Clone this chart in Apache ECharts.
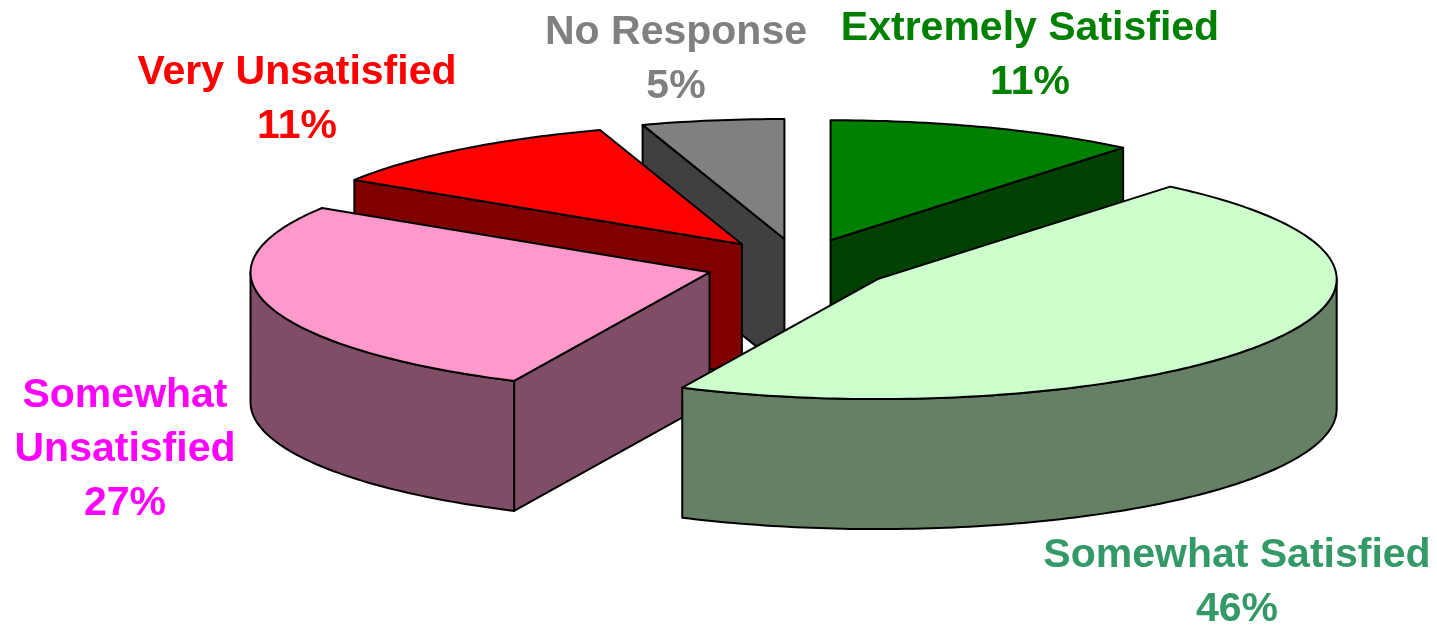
<!DOCTYPE html>
<html>
<head>
<meta charset="utf-8">
<script src="https://cdn.jsdelivr.net/npm/echarts@6/dist/echarts.min.js"></script>
<style>
  html, body { margin: 0; padding: 0; background: #ffffff; }
  #chart { width: 1437px; height: 628px; }
</style>
</head>
<body>
<div id="chart"></div>
<script>
// Survey answers, clockwise from 12 o'clock
const categories = ['Extremely Satisfied', 'Somewhat Satisfied', 'Somewhat\nUnsatisfied', 'Very Unsatisfied', 'No Response'];
const percentages = [11, 46, 27, 11, 5];

// Colours: top face, side walls, label
const topColors   = ['#008000', '#CCFFCC', '#FF99CC', '#FF0000', '#808080'];
const sideColors  = ['#004000', '#668066', '#804D66', '#800000', '#404040'];
const labelColors = ['#008000', '#339966', '#FF00FF', '#FF0000', '#808080'];

// Label block centres (px)
const labelPos = [[1030, 56], [1237, 583], [125, 450], [297, 100], [676, 60]];

// 3D pie geometry (px): ellipse of the top face, wall height, explode fraction
const pie = { cx: 799, cy: 265, rx: 459, ry: 120, depth: 130, explode: 0.203 };

// Angular extent of each slice (radians, clockwise from top)
const total = percentages.reduce((s, v) => s + v, 0);
const slices = [];
let acc = 0;
percentages.forEach((v, i) => {
  const a = acc / total * Math.PI * 2;
  acc += v;
  const b = acc / total * Math.PI * 2;
  slices.push({ a, b, mid: (a + b) / 2 });
});

// Paint back slices first so nearer ones overlap them
const order = slices.map((s, i) => i).sort((p, q) => Math.cos(slices[q].mid) - Math.cos(slices[p].mid));

function renderSlice(params, api) {
  const i = api.value(0);
  const s = slices[i];
  const D = pie.depth;
  const ox = pie.rx * pie.explode * Math.sin(s.mid);
  const oy = -pie.ry * pie.explode * 1.08 * Math.cos(s.mid);
  const P = (t, dy) => [pie.cx + ox + pie.rx * Math.sin(t), pie.cy + oy - pie.ry * Math.cos(t) + dy];
  const C = (dy) => [pie.cx + ox, pie.cy + oy + dy];
  const arc = (t0, t1, dy) => {
    const n = Math.max(2, Math.ceil((t1 - t0) / (Math.PI / 180)));
    const pts = [];
    for (let k = 0; k <= n; k++) pts.push(P(t0 + (t1 - t0) * k / n, dy));
    return pts;
  };
  const edge = { stroke: '#000000', lineWidth: 2, lineJoin: 'round' };
  const side = Object.assign({ fill: sideColors[i] }, edge);
  const children = [];

  // radial cut faces that turn toward the viewer
  if (Math.sin(s.a) < -1e-6) {
    children.push({ type: 'polygon', shape: { points: [C(0), P(s.a, 0), P(s.a, D), C(D)] }, style: side });
  }
  if (Math.sin(s.b) > 1e-6) {
    children.push({ type: 'polygon', shape: { points: [C(0), P(s.b, 0), P(s.b, D), C(D)] }, style: side });
  }
  // front part of the outer wall
  const lo = Math.max(s.a, Math.PI / 2);
  const hi = Math.min(s.b, Math.PI * 1.5);
  if (hi > lo) {
    const pts = arc(lo, hi, 0).concat(arc(lo, hi, D).reverse());
    children.push({ type: 'polygon', shape: { points: pts }, style: side });
  }
  // top face
  children.push({
    type: 'polygon',
    shape: { points: [C(0)].concat(arc(s.a, s.b, 0)) },
    style: Object.assign({ fill: topColors[i] }, edge)
  });
  // label
  children.push({
    type: 'text',
    style: {
      text: categories[i] + '\n' + api.value(1) + '%',
      x: labelPos[i][0],
      y: labelPos[i][1],
      align: 'center',
      verticalAlign: 'middle',
      fill: labelColors[i],
      fontFamily: '"Liberation Sans", Arial, sans-serif',
      fontWeight: 'bold',
      fontSize: 41,
      lineHeight: 54
    }
  });
  return { type: 'group', children };
}

const chart = echarts.init(document.getElementById('chart'), null, { renderer: 'canvas' });
chart.setOption({
  backgroundColor: '#ffffff',
  animation: false,
  series: [{
    type: 'custom',
    coordinateSystem: 'none',
    silent: true,
    renderItem: renderSlice,
    data: order.map(i => ({ name: categories[i], value: [i, percentages[i]] }))
  }]
});
</script>
</body>
</html>
